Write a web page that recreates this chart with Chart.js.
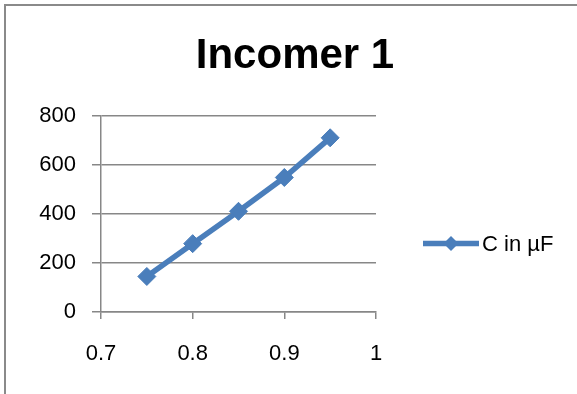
<!DOCTYPE html>
<html>
<head>
<meta charset="utf-8">
<title>Incomer 1</title>
<script src="https://cdn.jsdelivr.net/npm/chart.js@4/dist/chart.umd.min.js"></script>
<style>
  html, body { margin: 0; padding: 0; background: #ffffff; overflow: hidden; }
  #wrap { position: relative; width: 577px; height: 394px; }
  canvas { display: block; }
</style>
</head>
<body>
<div id="wrap"><canvas id="chart" width="577" height="394"></canvas></div>
<script>
// Power factor values and the capacitance required at each
const powerFactor = [0.75, 0.8, 0.85, 0.9, 0.95];
const capacitance = [145, 279, 411, 549, 711];
const seriesName = 'C in \u00b5F';
const chartTitle = 'Incomer 1';

// Axis ranges / tick steps
const xTicks = [0.7, 0.8, 0.9, 1];
const yTicks = [0, 200, 400, 600, 800];

const BLUE = '#4a7ebb';
const GRID = '#878787';
const FONT = "'Liberation Sans', Arial, sans-serif";
const LABEL_SIZE = 22;

// White background plus the grey frame line on the left and top
const framePlugin = {
  id: 'frame',
  beforeDraw(chart) {
    const ctx = chart.ctx;
    ctx.save();
    ctx.fillStyle = '#ffffff';
    ctx.fillRect(0, 0, chart.width, chart.height);
    ctx.strokeStyle = '#8a8a8a';
    ctx.lineWidth = 2;
    ctx.beginPath();
    ctx.moveTo(5, chart.height + 5);
    ctx.lineTo(5, 5);
    ctx.lineTo(chart.width + 5, 5);
    ctx.stroke();
    ctx.restore();
  }
};

// Legend drawn as a layout box on the right: line + diamond marker + label
const sideLegend = {
  id: 'sideLegend',
  beforeInit(chart) {
    const box = {
      position: 'right',
      weight: 0,
      fullSize: false,
      options: {},
      width: 0, height: 0, top: 0, left: 0, right: 0, bottom: 0,
      isHorizontal() { return false; },
      update(maxWidth, maxHeight) {
        this.width = 201;
        this.height = maxHeight;
      },
      draw() {
        const ds = chart.data.datasets[0];
        const ctx = chart.ctx;
        const y = 243.5;
        const x0 = this.left + 47;
        const x1 = this.left + 103;
        ctx.save();
        ctx.strokeStyle = ds.borderColor;
        ctx.lineWidth = ds.borderWidth;
        ctx.beginPath();
        ctx.moveTo(x0, y);
        ctx.lineTo(x1, y);
        ctx.stroke();
        const cx = (x0 + x1) / 2, r = 7.5;
        ctx.fillStyle = ds.pointBackgroundColor;
        ctx.beginPath();
        ctx.moveTo(cx - r, y);
        ctx.lineTo(cx, y - r);
        ctx.lineTo(cx + r, y);
        ctx.lineTo(cx, y + r);
        ctx.closePath();
        ctx.fill();
        ctx.fillStyle = '#000000';
        ctx.font = LABEL_SIZE + 'px ' + FONT;
        ctx.textBaseline = 'middle';
        ctx.textAlign = 'left';
        ctx.fillText(ds.label, x1 + 3, y + 1);
        ctx.restore();
      }
    };
    Chart.layouts.addBox(chart, box);
  }
};

new Chart(document.getElementById('chart'), {
  type: 'line',
  data: {
    datasets: [{
      label: seriesName,
      data: powerFactor.map((pf, i) => ({ x: pf, y: capacitance[i] })),
      borderColor: BLUE,
      backgroundColor: BLUE,
      borderWidth: 5.5,
      tension: 0,
      pointStyle: 'rectRot',
      pointRadius: 9,
      pointHoverRadius: 9,
      pointBackgroundColor: BLUE,
      pointBorderColor: BLUE,
      pointBorderWidth: 1
    }]
  },
  options: {
    responsive: false,
    animation: false,
    events: [],
    layout: { padding: { left: 13, right: 0, top: 0, bottom: 0 } },
    plugins: {
      legend: { display: false },
      tooltip: { enabled: false },
      title: {
        display: true,
        text: chartTitle,
        color: '#000000',
        font: { family: FONT, size: 42, weight: 'bold', lineHeight: 1.2 },
        padding: { top: 30.8, bottom: 34.8 }
      }
    },
    scales: {
      x: {
        type: 'linear',
        min: xTicks[0],
        max: xTicks[xTicks.length - 1],
        afterBuildTicks(scale) { scale.ticks = xTicks.map(v => ({ value: v })); },
        afterFit(scale) { scale.height = 82; },
        ticks: {
          color: '#000000',
          font: { family: FONT, size: LABEL_SIZE },
          padding: 21.8,
          maxRotation: 0,
          callback: v => String(v)
        },
        grid: { display: true, drawOnChartArea: false, drawTicks: true, tickLength: 7, color: GRID, lineWidth: 1.5 },
        border: { display: true, color: GRID, width: 1.5 }
      },
      y: {
        min: yTicks[0],
        max: yTicks[yTicks.length - 1],
        afterBuildTicks(scale) { scale.ticks = yTicks.map(v => ({ value: v })); },
        afterFit(scale) { scale.width = 88; },
        ticks: {
          color: '#000000',
          font: { family: FONT, size: LABEL_SIZE },
          padding: 16,
          callback: v => String(v)
        },
        grid: { color: GRID, lineWidth: 1.5, tickLength: 9 },
        border: { display: true, color: GRID, width: 1.5 }
      }
    }
  },
  plugins: [framePlugin, sideLegend]
});
</script>
</body>
</html>
